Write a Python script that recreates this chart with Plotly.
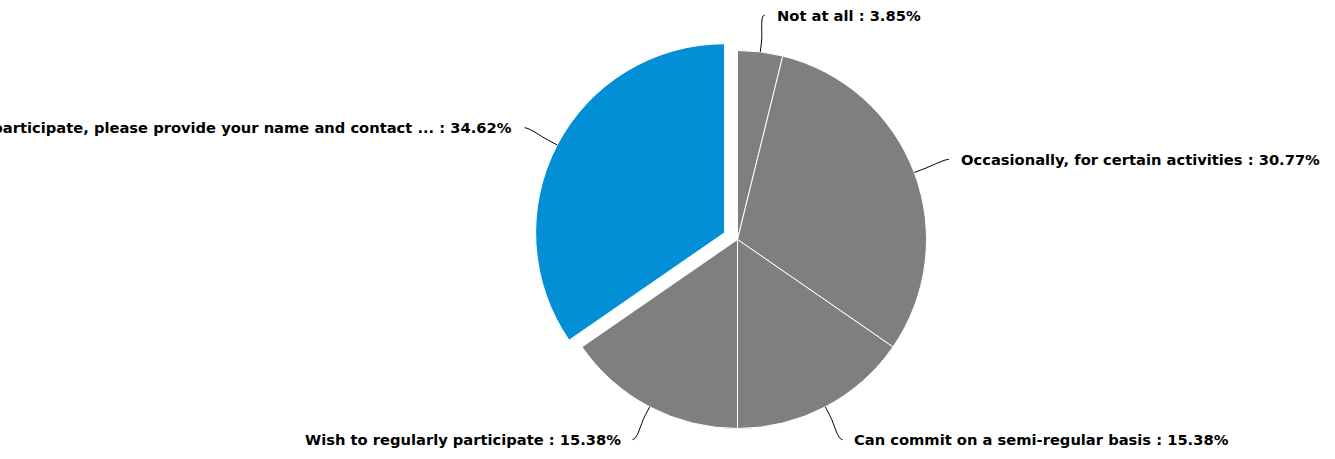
import math
import plotly.graph_objects as go

# Survey answers and their share of respondents (%)
categories = [
    "Not at all",
    "Occasionally, for certain activities",
    "Can commit on a semi-regular basis",
    "Wish to regularly participate",
    "If you wish to participate, please provide your name and contact ...",
]
shares = [3.85, 30.77, 15.38, 15.38, 34.62]
slice_colors = ["#7f7f7f", "#7f7f7f", "#7f7f7f", "#7f7f7f", "#038fd6"]
pulls = [0, 0, 0, 0, 0.077]

# Canvas and pie geometry (pixels)
W, H = 1335, 459
CX, CY = 737.5, 239.5
R = 189
LABEL_DIST = 37
BREAK_DIST = 10
TEXT_GAP = 10

half = R * (1 + max(pulls))
domain_x = [(CX - half) / W, (CX + half) / W]
domain_y = [1 - (CY + half) / H, 1 - (CY - half) / H]

fig = go.Figure(
    go.Pie(
        labels=categories,
        values=shares,
        sort=False,
        direction="clockwise",
        rotation=0,
        pull=pulls,
        marker=dict(colors=slice_colors, line=dict(color="#ffffff", width=1)),
        textinfo="none",
        hoverinfo="label+percent",
        domain=dict(x=domain_x, y=domain_y),
        showlegend=False,
    )
)


def px(x, y):
    return x / W, 1 - y / H


shapes = []
annotations = []
total = sum(shares)
cum = 0.0
for cat, val, pull in zip(categories, shares, pulls):
    mid = (cum + val / 2) / total * 2 * math.pi
    cum += val
    ux, uy = math.sin(mid), -math.cos(mid)
    ox, oy = CX + pull * R * ux, CY + pull * R * uy
    ex, ey = ox + R * ux, oy + R * uy
    bx, by = ox + (R + BREAK_DIST) * ux, oy + (R + BREAK_DIST) * uy
    lx, ly = ox + (R + LABEL_DIST) * ux, oy + (R + LABEL_DIST) * uy
    side = 1 if ux >= 0 else -1

    # soft connector: label end -> curve -> break point -> slice edge
    pts = [
        px(lx, ly),
        px(lx - side * 5, ly),
        px(2 * bx - ex, 2 * by - ey),
        px(bx, by),
        px(ex, ey),
    ]
    path = "M {0[0]:.5f},{0[1]:.5f} C {1[0]:.5f},{1[1]:.5f} {2[0]:.5f},{2[1]:.5f} {3[0]:.5f},{3[1]:.5f} L {4[0]:.5f},{4[1]:.5f}".format(*pts)
    shapes.append(
        dict(type="path", xref="paper", yref="paper", path=path,
             line=dict(color="#000000", width=1))
    )

    tx, ty = px(lx + side * TEXT_GAP, ly)
    annotations.append(
        dict(
            x=tx, y=ty, xref="paper", yref="paper",
            xanchor="left" if side > 0 else "right", yanchor="middle",
            text="<b>{} : {:.2f}%</b>".format(cat, val),
            showarrow=False,
            font=dict(family="DejaVu Sans", size=14.7, color="#000000"),
        )
    )

fig.update_layout(
    width=W,
    height=H,
    margin=dict(l=0, r=0, t=0, b=0),
    paper_bgcolor="#ffffff",
    plot_bgcolor="#ffffff",
    shapes=shapes,
    annotations=annotations,
)

fig.write_html("out.html")
